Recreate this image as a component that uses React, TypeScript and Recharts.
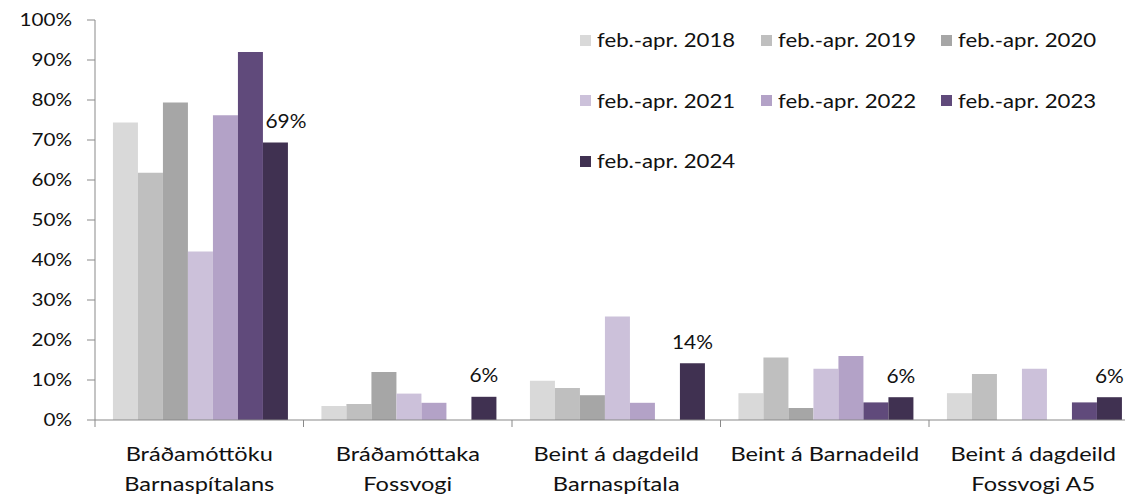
import React from 'react';
import { BarChart, Bar, XAxis, YAxis, Legend, LabelList } from 'recharts';

const categories = [
  'Bráðamóttöku\nBarnaspítalans',
  'Bráðamóttaka\nFossvogi',
  'Beint á dagdeild\nBarnaspítala',
  'Beint á Barnadeild',
  'Beint á dagdeild\nFossvogi A5',
];

const periods = [
  'feb.-apr. 2018',
  'feb.-apr. 2019',
  'feb.-apr. 2020',
  'feb.-apr. 2021',
  'feb.-apr. 2022',
  'feb.-apr. 2023',
  'feb.-apr. 2024',
];

const v2018 = [74.4, 3.5, 9.8, 6.7, 6.7];
const v2019 = [61.8, 4.0, 8.0, 15.6, 11.5];
const v2020 = [79.4, 12.0, 6.2, 3.0, null];
const v2021 = [42.1, 6.6, 25.9, 12.8, 12.8];
const v2022 = [76.2, 4.3, 4.3, 16.0, null];
const v2023 = [92.0, null, null, 4.4, 4.4];
const v2024 = [69.4, 5.8, 14.2, 5.7, 5.7];

const yTicks = [0, 10, 20, 30, 40, 50, 60, 70, 80, 90, 100];

const COLORS = ['#D9D9D9', '#BFBFBF', '#A6A6A6', '#CCC1DA', '#B3A2C7', '#604A7B', '#403151'];
const AXIS = '#898989';
const TEXT = '#111';
const FONT = 'Lato, "Noto Sans", sans-serif';

const series = [v2018, v2019, v2020, v2021, v2022, v2023, v2024];
const keys = periods.map((_, i) => `s${i}`);

const data = categories.map((name, i) => {
  const row: Record<string, string | number | null> = { name };
  series.forEach((s, j) => {
    row[keys[j]] = s[i];
  });
  return row;
});

const CHART_W = 1140;
const CHART_H = 496;
const MARGIN = { top: 20, right: 2.5, left: 15, bottom: 16 };
const YAXIS_W = 80;
const XAXIS_H = 60;
const STEP = (CHART_W - MARGIN.left - MARGIN.right - YAXIS_W) / categories.length;

// the source text is drawn a little wide, so glyphs get a horizontal stretch
function WideText({ x, y, anchor, size, sx, children }: any) {
  return (
    <g transform={`translate(${x},${y})`}>
      <text transform={`scale(${sx},1)`} textAnchor={anchor} fill={TEXT} fontSize={size} fontFamily={FONT}>
        {children}
      </text>
    </g>
  );
}

function CategoryTick(props: any) {
  const { x, y, payload, index } = props;
  const lines = String(payload.value).split('\n');
  const left = x - STEP / 2;
  return (
    <g>
      <line x1={left} x2={left} y1={y} y2={y + 7} stroke={AXIS} />
      {index === categories.length - 1 && (
        <line x1={left + STEP} x2={left + STEP} y1={y} y2={y + 7} stroke={AXIS} />
      )}
      {lines.map((l, i) => (
        <WideText key={i} x={x} y={y + 41 + i * 30} anchor="middle" size={19.5} sx={1.21}>
          {l}
        </WideText>
      ))}
    </g>
  );
}

function PercentTick(props: any) {
  const { x, y, payload } = props;
  return (
    <WideText x={x} y={y + 6.2} anchor="end" size={17.5} sx={1.18}>
      {`${payload.value}%`}
    </WideText>
  );
}

function LastLabel(props: any) {
  const { x, y, width, value, index } = props;
  if (value == null) return null;
  const prev = v2023[index];
  // move aside when the neighbouring bar would cover the label
  const shift = prev != null && prev > value + 5 ? width * 0.42 : 0;
  return (
    <WideText x={x + width / 2 + shift} y={y - 14.5} anchor="middle" size={19} sx={1.1}>
      {`${Math.round(value)}%`}
    </WideText>
  );
}

function LegendBox() {
  return (
    <div style={{ display: 'flex', flexWrap: 'wrap', width: 3 * 180.5, fontFamily: FONT }}>
      {periods.map((p, i) => (
        <div
          key={p}
          style={{ width: 180.5, height: 60.5, display: 'flex', alignItems: 'center', fontSize: 18.5, color: TEXT }}
        >
          <span style={{ width: 11, height: 11, background: COLORS[i], marginRight: 6, flex: 'none' }} />
          <span style={{ display: 'inline-block', transform: 'scaleX(1.2)', transformOrigin: 'left center', whiteSpace: 'nowrap' }}>
            {p}
          </span>
        </div>
      ))}
    </div>
  );
}

export default function App() {
  return (
    <div style={{ position: 'absolute', left: 0, top: 0, width: 1125, height: 496, overflow: 'hidden', background: '#fff' }}>
      <BarChart
        width={CHART_W}
        height={CHART_H}
        data={data}
        margin={MARGIN}
        barCategoryGap="8.6%"
        barGap={0}
      >
        <XAxis
          dataKey="name"
          interval={0}
          height={XAXIS_H}
          axisLine={{ stroke: AXIS }}
          tickLine={false}
          tickSize={0}
          tickMargin={0}
          tick={<CategoryTick />}
        />
        <YAxis
          width={YAXIS_W}
          domain={[0, 100]}
          ticks={yTicks}
          interval={0}
          axisLine={{ stroke: AXIS }}
          tickLine={{ stroke: AXIS }}
          tickSize={8}
          tickMargin={15}
          tick={<PercentTick />}
        />
        <Legend
          layout="horizontal"
          verticalAlign="middle"
          align="center"
          wrapperStyle={{ left: 580, top: 10, width: 3 * 180.5 }}
          content={<LegendBox />}
        />
        {keys.map((k, i) => (
          <Bar key={k} dataKey={k} name={periods[i]} fill={COLORS[i]} isAnimationActive={false}>
            {i === keys.length - 1 && <LabelList dataKey={k} content={<LastLabel />} />}
          </Bar>
        ))}
      </BarChart>
    </div>
  );
}
